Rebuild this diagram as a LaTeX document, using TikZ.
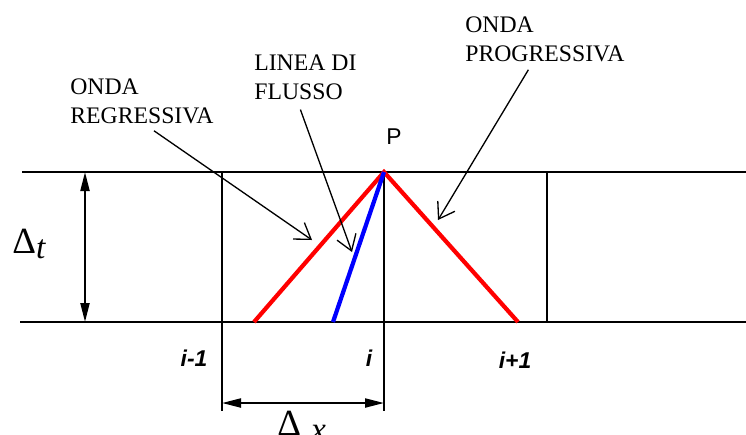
\documentclass[tikz,border=0pt]{standalone}
\usepackage{fontspec}
\setmainfont{Liberation Serif}
\setsansfont{Liberation Sans}
\usetikzlibrary{arrows.meta,positioning}

\begin{document}
\begin{tikzpicture}[
  x=0.02cm, y=-0.02cm,
  frame/.style={line width=1.3pt},
  wave/.style={red,line width=2.4pt},
  stream/.style={blue,line width=2.4pt},
  callout/.style={font=\fontsize{13.5}{16.5}\selectfont,align=left,inner sep=0pt},
  pointer/.style={-{Straight Barb[length=3mm,width=4mm]},line width=0.75pt},
  dimline/.style={{Triangle[length=3.8mm,width=1.8mm]}-{Triangle[length=3.8mm,width=1.8mm]},line width=1.2pt},
  idx/.style={font=\sffamily\bfseries\itshape\fontsize{13}{13}\selectfont,inner sep=0pt},
  greek/.style={font=\fontsize{21}{21}\selectfont,inner sep=0pt}
]
  \useasboundingbox (0,0) rectangle (746,434);
  \coordinate (top-left) at (22,172);
  \coordinate (top-right) at (746,172);
  \coordinate (bot-left) at (20,322);
  \coordinate (bot-right) at (746,322);
  \coordinate (P) at (384,172);
  \coordinate (im1-top) at (222,172);
  \coordinate (im1-end) at (222,411);
  \coordinate (i-end) at (384,411);
  \coordinate (ip1-top) at (547,172);
  \coordinate (ip1-bot) at (547,322);
  \coordinate (dt-top) at (85,172);
  \coordinate (dt-bot) at (85,322);
  \coordinate (dx-left) at (222,403);
  \coordinate (dx-right) at (384,403);
  \coordinate (regr-foot) at (254,322);
  \coordinate (flux-foot) at (333,322);
  \coordinate (progr-foot) at (518,322);
  \coordinate (regr-tip) at (312,240);
  \coordinate (flux-tip) at (352,252);
  \coordinate (progr-tip) at (438,220);

  \draw[frame] (top-left) -- (top-right);
  \draw[frame] (bot-left) -- (bot-right);
  \draw[frame] (im1-top) -- (im1-end);
  \draw[frame] (P) -- (i-end);
  \draw[frame] (ip1-top) -- (ip1-bot);
  \draw[dimline] (dt-top) -- (dt-bot);
  \draw[dimline] (dx-left) -- (dx-right);

  \draw[wave] (regr-foot) -- (P) -- (progr-foot);
  \draw[stream] (flux-foot) -- (P);

  \node[callout,anchor=north west] (regr) at (70,78) {ONDA\\REGRESSIVA};
  \node[callout,anchor=north west] (flux) at (254,54) {LINEA DI\\FLUSSO};
  \node[callout,anchor=north west] (progr) at (465,16) {ONDA\\PROGRESSIVA};
  \draw[pointer] ([xshift=0.24cm,yshift=-0.14cm]regr.south) -- (regr-tip);
  \draw[pointer] ([xshift=-0.1cm,yshift=-0.2cm]flux.south) -- (flux-tip);
  \draw[pointer] ([xshift=-0.33cm,yshift=-0.16cm]progr.south) -- (progr-tip);

  \node[font=\sffamily\fontsize{13}{13}\selectfont,inner sep=0pt,
    above right=0.54cm and 0.04cm of P] (plabel) {P};
  \node[idx] (lab-im1) at (194,358) {i-1};
  \node[idx] (lab-i) at (369,358) {i};
  \node[idx] (lab-ip1) at (515,360) {i+1};

  \node[greek,anchor=north west] (dt) at (12,229) {Δ\raisebox{-0.1cm}{\fontsize{19}{19}\selectfont\itshape t}};
  \node[greek,anchor=north west] (dx) at (277,411) {Δ\hspace{0.2cm}\raisebox{-0.1cm}{\fontsize{19}{19}\selectfont\itshape x}};
\end{tikzpicture}
\end{document}
